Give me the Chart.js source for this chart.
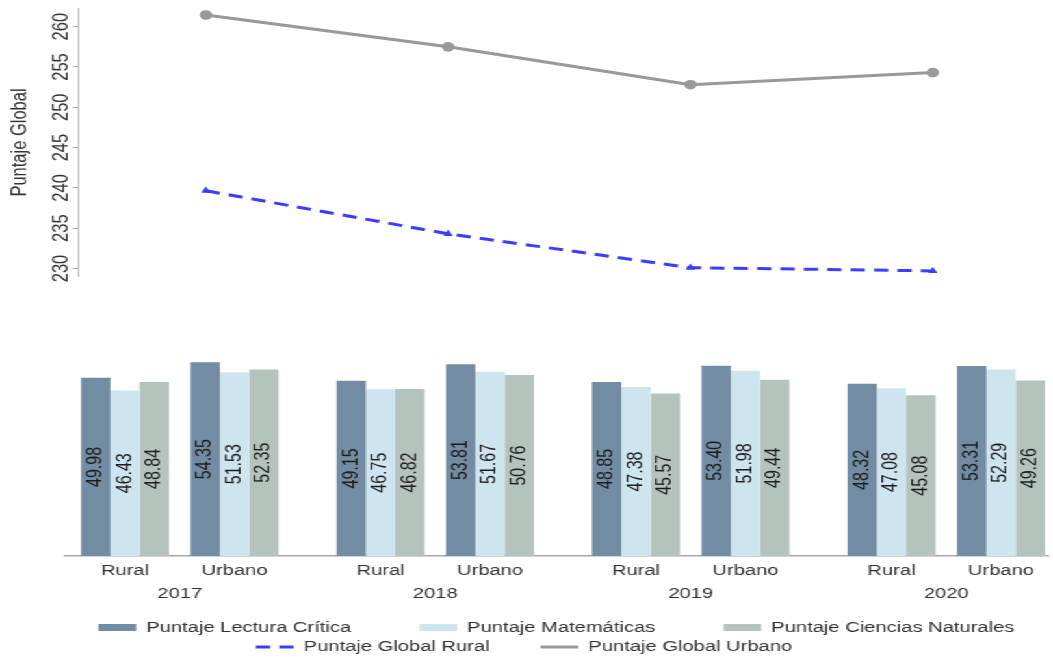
<!DOCTYPE html>
<html><head><meta charset="utf-8">
<script src="https://cdn.jsdelivr.net/npm/chart.js@4.4.0/dist/chart.umd.min.js"></script>
<style>
html,body{margin:0;padding:0;background:#fff;overflow:hidden;width:1053px;height:658px}
#wrap{position:absolute;left:0;top:0;width:810px;height:658px;transform:scaleX(1.3);transform-origin:0 0}
#bot{position:absolute;left:0;top:300px}
#top{position:absolute;left:0;top:0}
</style></head><body>
<div id="wrap"><canvas id="bot" width="810" height="365"></canvas><canvas id="top" width="810" height="646"></canvas></div>
<script>
// ---- data ----
const years = ['2017', '2018', '2019', '2020'];
const areas = ['Rural', 'Urbano'];
const lectura     = [49.98, 54.35, 49.15, 53.81, 48.85, 53.40, 48.32, 53.31];
const matematicas = [46.43, 51.53, 46.75, 51.67, 47.38, 51.98, 47.08, 52.29];
const ciencias    = [48.84, 52.35, 46.82, 50.76, 45.57, 49.44, 45.08, 49.26];
const globalRural  = [239.65, 234.3, 230.1, 229.7];
const globalUrbano = [261.45, 257.5, 252.8, 254.3];
const topTicks = [230, 235, 240, 245, 250, 255, 260];
const barNames  = ['Puntaje Lectura Crítica', 'Puntaje Matemáticas', 'Puntaje Ciencias Naturales'];
const lineNames = ['Puntaje Global Rural', 'Puntaje Global Urbano'];

// ---- styling ----
const FONT = "'Liberation Sans', Arial, sans-serif";
Chart.defaults.font.family = FONT;
Chart.defaults.color = '#333';
const txt = '#333';
const barColors  = ['#718ca3', '#cee5ef', '#b5c3bd'];
const lineColors = ['#3c3cff', '#999999'];
const lineDashes = [[11, 7], []];

// slot index on the bar axis: year block of 7 units, Rural at 0, Urbano at 3
const slot = (yi, ai) => yi * 7 + ai * 3;
const barSlots = years.flatMap((y, yi) => areas.map((a, ai) => slot(yi, ai)));
const toPts = arr => arr.map((v, i) => ({ x: barSlots[i], y: v }));
const barSeries = [lectura, matematicas, ciencias];
const lineSeries = [globalRural, globalUrbano];

const barValues = {
  id: 'barValues',
  afterDatasetsDraw(chart) {
    const ctx = chart.ctx;
    ctx.save();
    ctx.font = '16px ' + FONT;
    ctx.fillStyle = '#1c1c1c';
    ctx.textAlign = 'center';
    ctx.textBaseline = 'middle';
    chart.data.datasets.forEach((ds, di) => {
      const meta = chart.getDatasetMeta(di);
      meta.data.forEach((el, i) => {
        const p = el.getProps(['x', 'y', 'base'], true);
        ctx.save();
        ctx.translate(p.x, (p.y + p.base) / 2);
        ctx.rotate(-Math.PI / 2);
        ctx.fillText(ds.data[i].y.toFixed(2), 0, 0);
        ctx.restore();
      });
    });
    ctx.restore();
  }
};

const hiddenAxis = (w) => ({
  display: true, ticks: { display: false }, grid: { display: false }, border: { display: false },
  afterFit: s => { s.width = w; }
});

// ---- bar chart (bottom) ----
new Chart(document.getElementById('bot'), {
  type: 'bar',
  data: {
    datasets: barSeries.map((vals, i) => ({
      label: barNames[i], data: toPts(vals), backgroundColor: barColors[i], xAxisID: 'x', yAxisID: 'y'
    }))
  },
  options: {
    responsive: false,
    animation: false,
    layout: { padding: { top: 20.75, left: 0, right: 3.8, bottom: 0.25 } },
    datasets: { bar: { categoryPercentage: 0.804, barPercentage: 1, borderWidth: 0 } },
    scales: {
      x: {
        type: 'linear', axis: 'x', position: 'bottom', weight: 0,
        min: -1.644, max: 25.288, offset: false,
        afterBuildTicks: s => { s.ticks = barSlots.map(v => ({ value: v })); },
        ticks: { callback: (v, i) => areas[i % 2], padding: 5.7, autoSkip: false, maxRotation: 0,
                 font: { size: 15.5 }, color: txt },
        grid: { display: false, drawTicks: false },
        border: { display: true, color: '#a8a8a8', width: 1.5 },
        afterFit: s => { s.height = 30; }
      },
      xYear: {
        type: 'linear', axis: 'x', position: 'bottom', weight: 1,
        min: -1.644, max: 25.288, offset: false,
        afterBuildTicks: s => { s.ticks = years.map((y, i) => ({ value: slot(i, 0) + 1.5 })); },
        ticks: { callback: (v, i) => years[i], padding: -2, autoSkip: false, maxRotation: 0,
                 font: { size: 15.5 }, color: txt },
        grid: { display: false, drawTicks: false },
        border: { display: false },
        afterFit: s => { s.height = 14; }
      },
      y: Object.assign(hiddenAxis(50), { min: 0, max: 66.0, position: 'left' })
    },
    plugins: {
      legend: {
        position: 'bottom',
        labels: {
          usePointStyle: true, pointStyleWidth: 29, padding: 39.25, font: { size: 15.5 }, color: txt,
          generateLabels: () => lineNames.map((n, i) => ({
            text: n, fillStyle: lineColors[i], strokeStyle: lineColors[i], lineWidth: 3,
            lineDash: lineDashes[i], pointStyle: 'line', fontColor: txt, hidden: false, index: i
          }))
        }
      },
      tooltip: { enabled: false }
    }
  },
  plugins: [barValues]
});

// ---- line chart (top) ----
new Chart(document.getElementById('top'), {
  type: 'line',
  data: {
    datasets: lineSeries.map((vals, i) => ({
      label: lineNames[i],
      data: years.map((y, j) => ({ x: Number(y), y: vals[j] })),
      borderColor: lineColors[i], backgroundColor: lineColors[i], borderWidth: 3, borderDash: lineDashes[i],
      pointStyle: i === 0 ? 'triangle' : 'circle', pointRadius: i === 0 ? 4.2 : 4.8,
      pointBorderWidth: 0, tension: 0
    }))
  },
  options: {
    responsive: false,
    animation: false,
    layout: { padding: { top: 8.3, left: 0, right: -46, bottom: 0.75 } },
    scales: {
      x: {
        type: 'linear', min: 2016.4725, max: 2020.47,
        ticks: { display: false }, grid: { display: false }, border: { display: false },
        afterFit: s => { s.height = 290.55; }
      },
      y: {
        position: 'left',
        min: 228.98, max: 262.28,
        afterBuildTicks: s => { s.ticks = topTicks.map(v => ({ value: v })); },
        afterFit: s => { s.width = 60; },
        ticks: { minRotation: 90, maxRotation: 90, crossAlign: 'center', padding: -5.46,
                 font: { size: 16.5 }, color: txt },
        grid: { drawOnChartArea: false, drawTicks: true, tickLength: 4, color: '#b0b0b0' },
        border: { display: true, color: '#b0b0b0', width: 1 },
        title: { display: true, text: 'Puntaje Global', font: { size: 16.5 }, color: txt,
                 padding: { top: 5.9, bottom: 0 } }
      },
      yRight: Object.assign(hiddenAxis(49.8), { position: 'right', axis: 'y' })
    },
    plugins: {
      legend: {
        position: 'bottom',
        labels: {
          usePointStyle: true, pointStyleWidth: 29, boxHeight: 7, padding: 52.5,
          font: { size: 15.5 }, color: txt,
          generateLabels: () => barNames.map((n, i) => ({
            text: n, fillStyle: barColors[i], strokeStyle: barColors[i], lineWidth: 0,
            pointStyle: 'rect', fontColor: txt, hidden: false, index: i
          }))
        }
      },
      tooltip: { enabled: false }
    }
  }
});
</script>
</body></html>
